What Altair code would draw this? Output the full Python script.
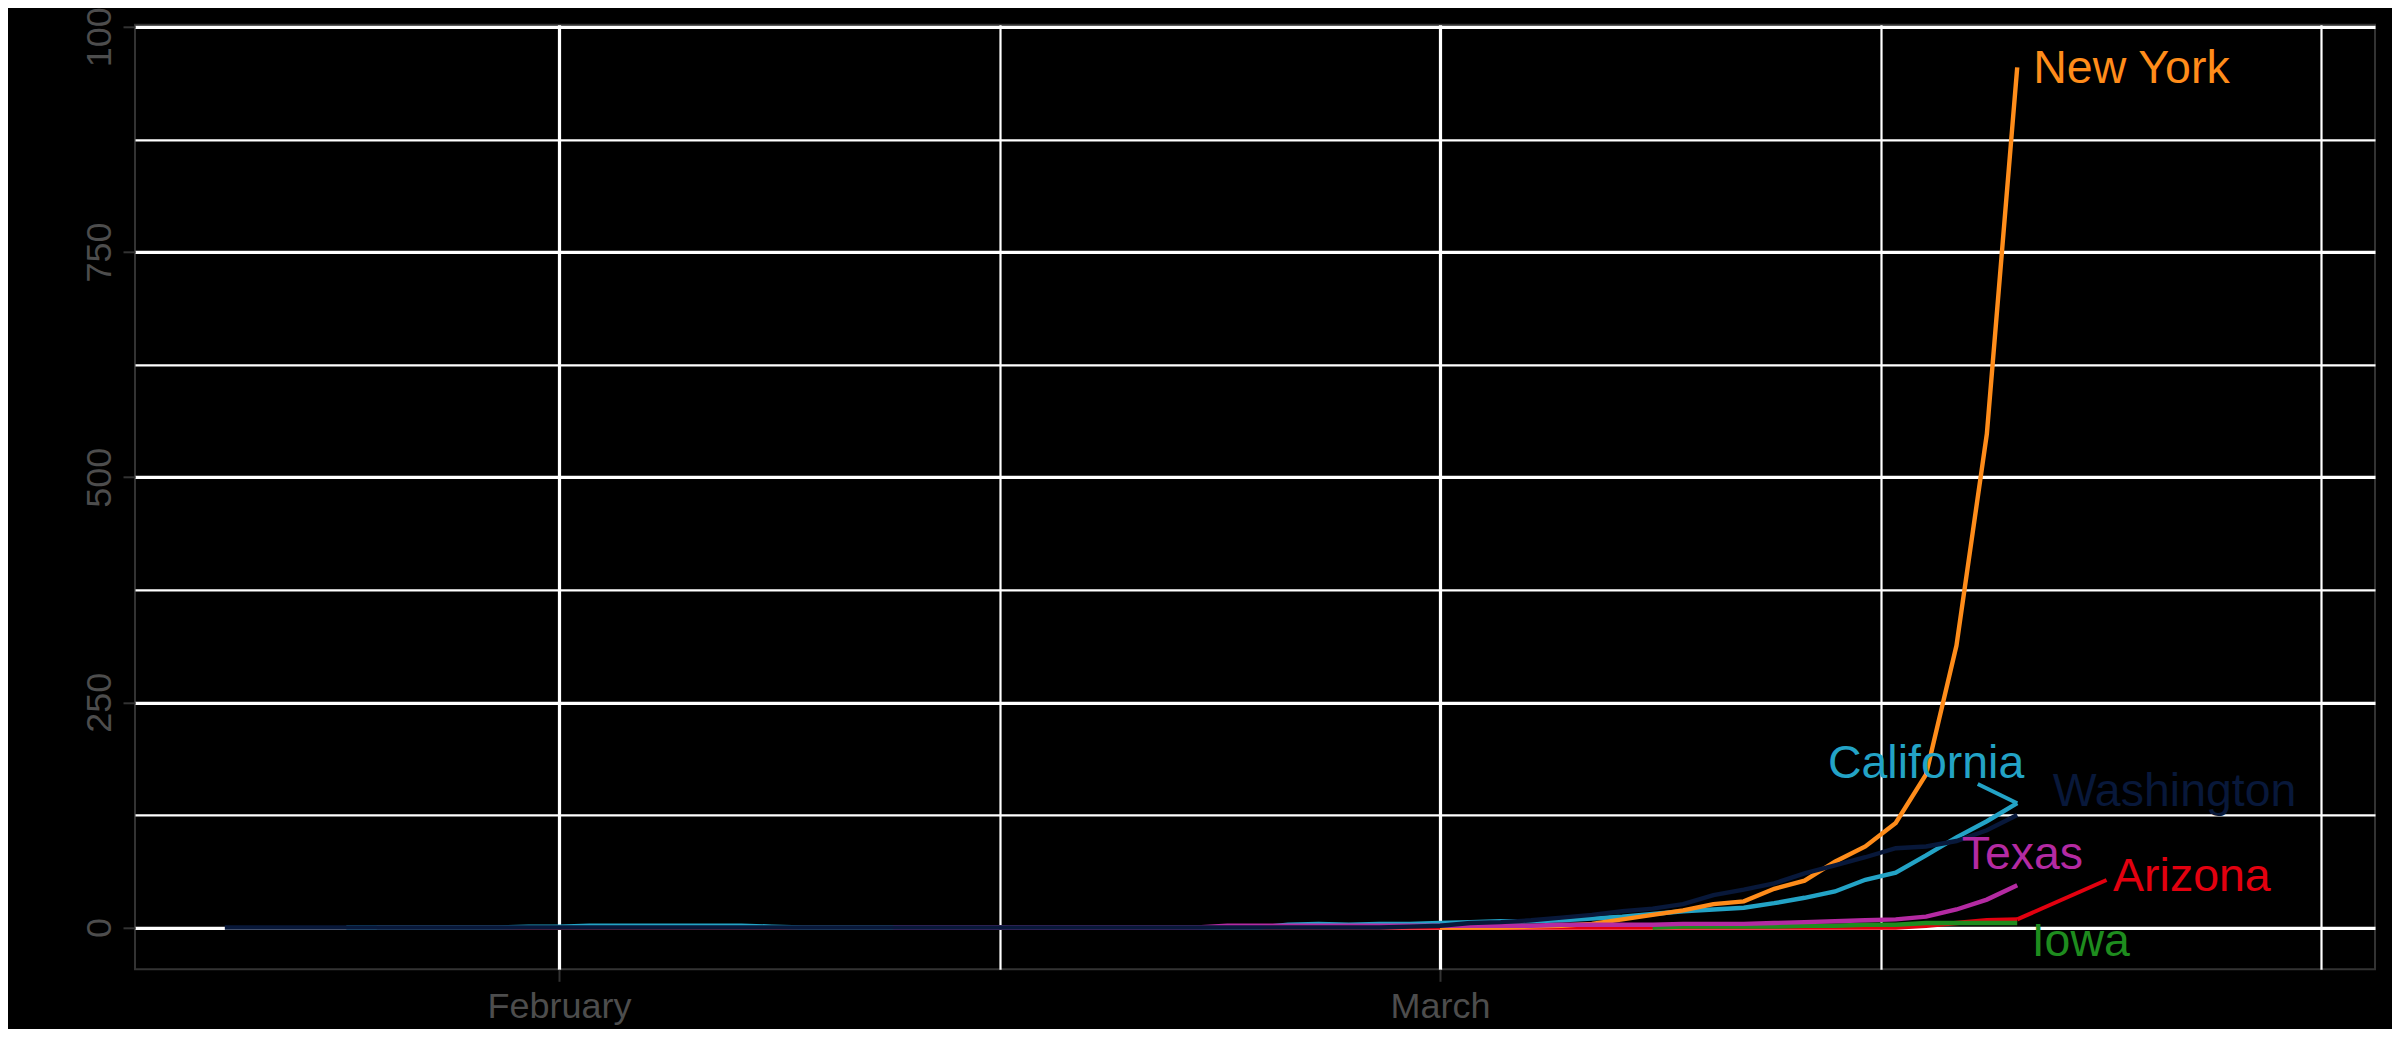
import altair as alt
import pandas as pd

ORIGIN = pd.Timestamp("2020-02-01")

# ---- data (cumulative count per state, daily) ----
states = ["Arizona", "California", "Iowa", "New York", "Texas", "Washington"]
colors = ["#E3000F", "#23A3C6", "#1E8C1E", "#FF8C1A", "#B42AA2", "#08183A"]

start_dates = {
    "Arizona": "2020-01-26",
    "California": "2020-01-25",
    "Iowa": "2020-03-08",
    "New York": "2020-03-01",
    "Texas": "2020-02-12",
    "Washington": "2020-01-21",
}

arizona = [0, 0, 0, 0, 0, 0,                       # Jan 26-31
           0, 0, 0, 0, 0, 0, 0, 0, 0, 0, 0, 0, 0, 0,
           0, 0, 0, 0, 0, 0, 0, 0, 0, 0, 0, 0, 0, 0, 0,  # Feb
           0, 0, 0, 0, 0, 0, 0, 0, 0, 0, 0, 0, 0, 0, 0, 0,  # Mar 1-16
           2, 5, 8, 9]                                # Mar 17-20
california = [0, 0, 0, 0, 0, 0,                    # Jan 25-30
              1,                                   # Jan 31
              1, 2, 2, 2, 2, 2, 2, 1,              # Feb 1-8
              0, 0, 0, 0, 0, 0, 0, 0, 0, 0, 0, 0, 0, 0, 0, 0,  # Feb 9-24
              3, 4, 3, 4, 4,                       # Feb 25-29
              5, 6, 7, 7, 8, 10, 12, 15, 18, 20,   # Mar 1-10
              22, 27, 33, 40, 53, 61, 80, 100, 118, 138]  # Mar 11-20
iowa = [0, 1, 1, 1, 1, 2, 2, 3, 3, 5, 5, 5, 5]     # Mar 8-20
new_york = [0, 0, 0, 1, 2, 4, 9, 14, 19, 26,       # Mar 1-10
            29, 43, 52, 73, 90, 116, 170, 313, 548, 955]  # Mar 11-20
texas = [0, 0, 0, 0, 0, 0, 0, 0, 0, 0, 0,          # Feb 12-22
         2, 2, 2, 2, 2, 2, 2,                      # Feb 23-29
         2, 2, 2, 2, 3, 3, 3, 3, 4, 4,             # Mar 1-10
         4, 5, 6, 7, 8, 9, 12, 20, 31, 47]         # Mar 11-20
washington = [0, 0, 0, 0, 0, 0, 0, 0, 0, 0, 0,     # Jan 21-31
              0, 0, 0, 0, 0, 0, 0, 0, 0, 0, 0, 0, 0, 0,
              0, 0, 0, 0, 0, 0, 0, 0, 0, 0, 0, 0, 0, 0,  # Feb 1-28
              1,                                   # Feb 29
              2, 5, 6, 8, 11, 14, 18, 21, 26, 36,  # Mar 1-10
              42, 49, 60, 69, 78, 88, 90, 96, 108, 125]  # Mar 11-20

values_by_state = {
    "Arizona": arizona,
    "California": california,
    "Iowa": iowa,
    "New York": new_york,
    "Texas": texas,
    "Washington": washington,
}

# direct labels (anchor in data space, like ggrepel output)
label_states = ["New York", "California", "Washington", "Texas", "Arizona", "Iowa"]
label_dates = ["2020-03-23T18:14", "2020-03-17T00:00", "2020-03-25T04:19",
               "2020-03-20T04:05", "2020-03-25T18:00", "2020-03-22T02:10"]
label_values = [937.6, 165.6, 134.9, 64.6, 40.8, -31.3]

# leader segments from label side to the last point
seg_states = ["California", "Arizona"]
seg_dates = ["2020-03-18T16:48", "2020-03-22T22:34"]
seg_values = [159.3, 52.7]

# axis breaks
major_x_dates = ["2020-02-01", "2020-03-01"]
major_x_labels = ["February", "March"]
minor_x_dates = ["2020-01-17T12:00", "2020-02-15T12:00", "2020-03-15T12:00", "2020-03-30T00:00"]
major_y = [0, 250, 500, 750, 1000]
minor_y = [125, 375, 625, 875]
x_limits = ["2020-01-18T01:03", "2020-03-31T18:38"]
y_limits = [-46.4, 1002.2]


def to_day(s):
    return (pd.to_datetime(s) - ORIGIN) / pd.Timedelta(days=1)


rows = []
for st in states:
    vals = values_by_state[st]
    dates = pd.date_range(start_dates[st], periods=len(vals), freq="D")
    for d, v in zip(dates, vals):
        rows.append({"state": st, "day": (d - ORIGIN) / pd.Timedelta(days=1), "value": v})
lines_df = pd.DataFrame(rows)

last = lines_df.groupby("state").tail(1).set_index("state")

labels_df = pd.DataFrame({
    "state": label_states,
    "day": [to_day(s) for s in label_dates],
    "value": label_values,
})
seg_df = pd.DataFrame({
    "state": seg_states,
    "day": [to_day(s) for s in seg_dates],
    "value": seg_values,
    "day2": [last.loc[s, "day"] for s in seg_states],
    "value2": [last.loc[s, "value"] for s in seg_states],
})

major_x = [to_day(s) for s in major_x_dates]
minor_x = [to_day(s) for s in minor_x_dates]

label_expr = "''"
for d, lab in reversed(list(zip(major_x, major_x_labels))):
    label_expr = f"abs(datum.value - {d}) < 0.01 ? '{lab}' : ({label_expr})"

xscale = alt.Scale(domain=[to_day(x_limits[0]), to_day(x_limits[1])], nice=False, zero=False)
yscale = alt.Scale(domain=y_limits, nice=False, zero=False)
color = alt.Color("state:N", scale=alt.Scale(domain=states, range=colors), legend=None)

FONT = "Liberation Sans"
GRID = "#FFFFFF"
DARK = "#333333"
LABEL = "#4D4D4D"

major_axis_x = alt.Axis(values=major_x, labelExpr=label_expr, title=None, orient="bottom",
                        grid=True, gridColor=GRID, gridWidth=3.2, domain=False,
                        ticks=True, tickSize=12, tickColor=DARK, tickWidth=2,
                        labelFont=FONT, labelFontSize=36, labelColor=LABEL,
                        labelPadding=8, labelFlush=False, labelOverlap=False)
major_axis_y = alt.Axis(values=major_y, format="d", title=None, orient="left",
                        grid=True, gridColor=GRID, gridWidth=3.2, domain=False,
                        ticks=True, tickSize=12, tickColor=DARK, tickWidth=2,
                        labelFont=FONT, labelFontSize=36, labelColor=LABEL,
                        labelAngle=270, labelAlign="center", labelBaseline="bottom",
                        labelPadding=5, labelFlush=False, labelOverlap=False)
minor_axis_x = alt.Axis(values=minor_x, title=None, orient="bottom", grid=True,
                        gridColor=GRID, gridWidth=2.2, domain=False, ticks=False, labels=False)
minor_axis_y = alt.Axis(values=minor_y, title=None, orient="left", grid=True,
                        gridColor=GRID, gridWidth=2.2, domain=False, ticks=False, labels=False)

base = alt.Chart(lines_df)

major_layer = base.mark_line(opacity=0).encode(
    x=alt.X("day:Q", scale=xscale, axis=major_axis_x),
    y=alt.Y("value:Q", scale=yscale, axis=major_axis_y),
    detail="state:N",
)
minor_layer = base.mark_line(opacity=0).encode(
    x=alt.X("day:Q", scale=xscale, axis=minor_axis_x),
    y=alt.Y("value:Q", scale=yscale, axis=minor_axis_y),
    detail="state:N",
)
lines = base.mark_line(strokeWidth=4.4).encode(
    x=alt.X("day:Q", scale=xscale, axis=None),
    y=alt.Y("value:Q", scale=yscale, axis=None),
    color=color,
)
segs = alt.Chart(seg_df).mark_rule(strokeWidth=4).encode(
    x=alt.X("day:Q", scale=xscale, axis=None),
    y=alt.Y("value:Q", scale=yscale, axis=None),
    x2="day2:Q",
    y2="value2:Q",
    color=color,
)
texts = alt.Chart(labels_df).mark_text(font=FONT, fontSize=46.5, align="center",
                                       baseline="alphabetic").encode(
    x=alt.X("day:Q", scale=xscale, axis=None),
    y=alt.Y("value:Q", scale=yscale, axis=None),
    text="state:N",
    color=color,
)

chart = alt.layer(major_layer, minor_layer, lines, segs, texts).resolve_axis(
    x="independent", y="independent"
).properties(
    width=2240,
    height=944.5,
    autosize=alt.AutoSizeParams(type="none"),
    padding={"left": 127, "top": 16.8, "right": 17, "bottom": 60},
    background="#000000",
).configure_view(
    stroke=DARK, strokeWidth=2, fill="#000000"
)

chart.save("out.html", embed_options={"renderer": "svg", "actions": False})
